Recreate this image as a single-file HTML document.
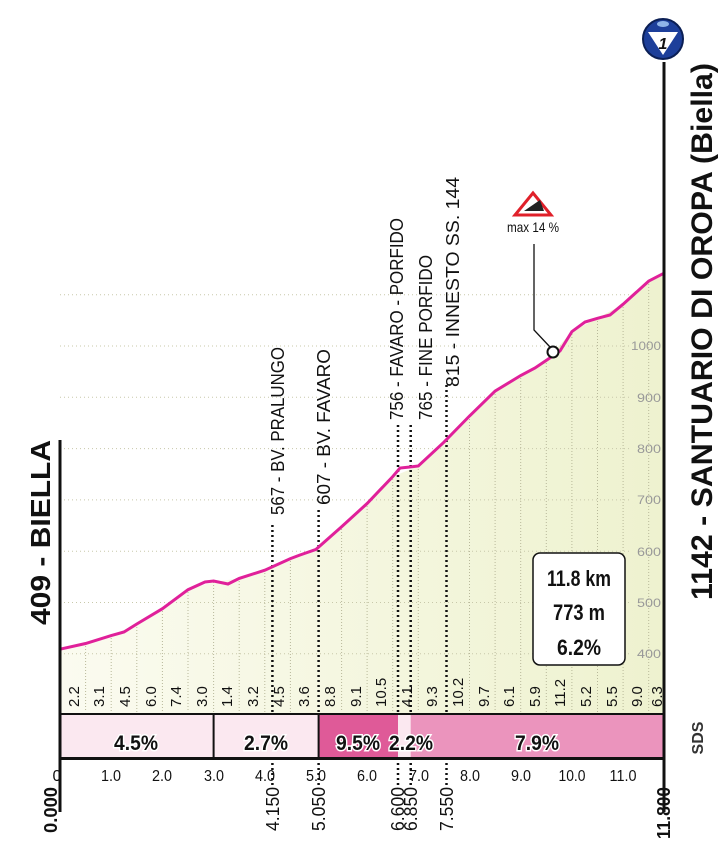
<!DOCTYPE html>
<html><head><meta charset="utf-8"><style>
body{margin:0;background:#fff;}
svg{display:block;font-family:"Liberation Sans",sans-serif;}
</style></head><body>
<svg width="728" height="857" viewBox="0 0 728 857" xmlns="http://www.w3.org/2000/svg">
<defs>
<linearGradient id="fg" x1="0" y1="0" x2="1" y2="0">
<stop offset="0" stop-color="#fbfbf0"/><stop offset="1" stop-color="#eef2cf"/>
</linearGradient>
</defs>
<path d="M60,649.2 L85.6,643.5 111.2,635.6 136.8,624 162.4,608.7 188,589.7 213.6,582 239.2,578.4 264.8,570.2 290.4,558.6 316,549.4 341.6,526.8 367.1,503.5 392.7,476.6 418.3,466 443.9,442.2 469.5,416 495.1,391.1 520.7,375.5 546.3,360.4 571.9,331.6 597.5,318.3 623.1,304.2 648.7,281.1 664,273.2 L664,713 L60,713 Z" fill="url(#fg)"/>
<g stroke="#b8b89a" stroke-width="1" stroke-dasharray="1,2">
<line x1="85.6" y1="643" x2="85.6" y2="712"/><line x1="111.2" y1="635" x2="111.2" y2="712"/><line x1="136.8" y1="624" x2="136.8" y2="712"/><line x1="162.4" y1="608" x2="162.4" y2="712"/><line x1="188" y1="589" x2="188" y2="712"/><line x1="213.6" y1="582" x2="213.6" y2="712"/><line x1="239.2" y1="578" x2="239.2" y2="712"/><line x1="264.8" y1="570" x2="264.8" y2="712"/><line x1="290.4" y1="558" x2="290.4" y2="712"/><line x1="341.6" y1="526" x2="341.6" y2="712"/><line x1="367.1" y1="503" x2="367.1" y2="712"/><line x1="392.7" y1="476" x2="392.7" y2="712"/><line x1="418.3" y1="466" x2="418.3" y2="712"/><line x1="469.5" y1="416" x2="469.5" y2="712"/><line x1="495.1" y1="391" x2="495.1" y2="712"/><line x1="520.7" y1="375" x2="520.7" y2="712"/><line x1="546.3" y1="360" x2="546.3" y2="712"/><line x1="571.9" y1="331" x2="571.9" y2="712"/><line x1="597.5" y1="318" x2="597.5" y2="712"/><line x1="623.1" y1="304" x2="623.1" y2="712"/><line x1="648.7" y1="281" x2="648.7" y2="712"/>
</g>
<g stroke="#c8c8aa" stroke-width="1" stroke-dasharray="1,3">
<line x1="60" y1="653.8" x2="630" y2="653.8"/><line x1="60" y1="602.5" x2="630" y2="602.5"/><line x1="60" y1="551.2" x2="630" y2="551.2"/><line x1="60" y1="499.9" x2="630" y2="499.9"/><line x1="60" y1="448.6" x2="630" y2="448.6"/><line x1="60" y1="397.3" x2="630" y2="397.3"/><line x1="60" y1="346" x2="630" y2="346"/><line x1="60" y1="294.7" x2="630" y2="294.7"/>
</g>
<g fill="#999" font-size="12" text-anchor="end">
<text x="661" y="658" textLength="24" lengthAdjust="spacingAndGlyphs">400</text><text x="661" y="607" textLength="24" lengthAdjust="spacingAndGlyphs">500</text><text x="661" y="556" textLength="24" lengthAdjust="spacingAndGlyphs">600</text><text x="661" y="504" textLength="24" lengthAdjust="spacingAndGlyphs">700</text><text x="661" y="453" textLength="24" lengthAdjust="spacingAndGlyphs">800</text><text x="661" y="402" textLength="24" lengthAdjust="spacingAndGlyphs">900</text><text x="661" y="350" textLength="30" lengthAdjust="spacingAndGlyphs">1000</text>
</g>
<g stroke="#111" stroke-width="2.5" stroke-dasharray="2,3">
<line x1="272.4" y1="525" x2="272.4" y2="712"/><line x1="318.6" y1="510" x2="318.6" y2="712"/><line x1="398" y1="425" x2="398" y2="712"/><line x1="410.7" y1="425" x2="410.7" y2="712"/><line x1="446.5" y1="385" x2="446.5" y2="712"/>
<line x1="272.4" y1="763" x2="272.4" y2="788"/><line x1="318.6" y1="763" x2="318.6" y2="788"/><line x1="398" y1="763" x2="398" y2="788"/><line x1="410.7" y1="763" x2="410.7" y2="788"/><line x1="446.5" y1="763" x2="446.5" y2="788"/>
</g>
<polyline points="60,649.2 85.6,643.5 111.2,635.6 124,632 136.8,624 162.4,608.7 188,589.7 205,582 213.6,581 228,584 239.2,578.4 264.8,570.2 290.4,558.6 300,555 316,549.4 341.6,526.8 367.1,503.5 392.7,476.6 400,468 410,467 418.3,466 443.9,442.2 469.5,416 495.1,391.1 520.7,375.5 535,368 546.3,360.4 560,351 571.9,331.6 585,322 597.5,318.3 610,315 623.1,304.2 648.7,281.1 664,273.2" fill="none" stroke="#e0209a" stroke-width="3"/>
<g font-size="18" fill="#111">
<text transform="translate(284,515) rotate(-90)" textLength="168" lengthAdjust="spacingAndGlyphs">567 - BV. PRALUNGO</text>
<text transform="translate(330,505) rotate(-90)" textLength="156" lengthAdjust="spacingAndGlyphs">607 - BV. FAVARO</text>
<text transform="translate(403,420) rotate(-90)" textLength="202" lengthAdjust="spacingAndGlyphs">756 - FAVARO - PORFIDO</text>
<text transform="translate(432,420) rotate(-90)" textLength="165" lengthAdjust="spacingAndGlyphs">765 - FINE PORFIDO</text>
<text transform="translate(459,387) rotate(-90)" textLength="210" lengthAdjust="spacingAndGlyphs">815 - INNESTO SS. 144</text>
</g>
<polygon points="533,193 515,215 551,215" fill="#fff" stroke="#e0202a" stroke-width="3"/>
<polygon points="524,211 540,200 544,211" fill="#222"/>
<text x="533" y="232" font-size="14" text-anchor="middle" fill="#111" textLength="52" lengthAdjust="spacingAndGlyphs">max 14 %</text>
<polyline points="534,244 534,330 550,347" fill="none" stroke="#111" stroke-width="1.3"/>
<circle cx="553" cy="352" r="5.5" fill="#fff" stroke="#111" stroke-width="2"/>
<rect x="533" y="553" width="92" height="112" rx="7" fill="#fff" stroke="#111" stroke-width="1.5"/>
<g font-size="22" font-weight="bold" text-anchor="middle" fill="#111">
<text x="579" y="586" textLength="64" lengthAdjust="spacingAndGlyphs">11.8 km</text>
<text x="579" y="620" textLength="52" lengthAdjust="spacingAndGlyphs">773 m</text>
<text x="579" y="655" textLength="44" lengthAdjust="spacingAndGlyphs">6.2%</text>
</g>
<g font-size="15" fill="#111">
<text transform="translate(79,707) rotate(-90)">2.2</text><text transform="translate(104,707) rotate(-90)">3.1</text><text transform="translate(130,707) rotate(-90)">4.5</text><text transform="translate(156,707) rotate(-90)">6.0</text><text transform="translate(181,707) rotate(-90)">7.4</text><text transform="translate(207,707) rotate(-90)">3.0</text><text transform="translate(232,707) rotate(-90)">1.4</text><text transform="translate(258,707) rotate(-90)">3.2</text><text transform="translate(284,707) rotate(-90)">4.5</text><text transform="translate(309,707) rotate(-90)">3.6</text><text transform="translate(335,707) rotate(-90)">8.8</text><text transform="translate(361,707) rotate(-90)">9.1</text><text transform="translate(386,707) rotate(-90)">10.5</text><text transform="translate(412,707) rotate(-90)">4.1</text><text transform="translate(437,707) rotate(-90)">9.3</text><text transform="translate(463,707) rotate(-90)">10.2</text><text transform="translate(489,707) rotate(-90)">9.7</text><text transform="translate(514,707) rotate(-90)">6.1</text><text transform="translate(540,707) rotate(-90)">5.9</text><text transform="translate(565,707) rotate(-90)">11.2</text><text transform="translate(591,707) rotate(-90)">5.2</text><text transform="translate(617,707) rotate(-90)">5.5</text><text transform="translate(642,707) rotate(-90)">9.0</text><text transform="translate(662,707) rotate(-90)">6.3</text>
</g>
<rect x="60" y="714" width="604" height="44" fill="#fbe8f0"/>
<rect x="318.6" y="714" width="79.4" height="44" fill="#df5a98"/>
<rect x="410.7" y="714" width="253.3" height="44" fill="#eb94bd"/>
<g stroke="#111" stroke-width="2">
<line x1="60" y1="714" x2="664" y2="714"/><line x1="60" y1="758.5" x2="664" y2="758.5" stroke-width="3"/>
<line x1="213.6" y1="714" x2="213.6" y2="758"/><line x1="318.6" y1="714" x2="318.6" y2="758"/>
</g>
<g font-size="21" font-weight="bold" text-anchor="middle" fill="#111" stroke="#fff" stroke-width="3" paint-order="stroke">
<text x="136" y="750" textLength="44" lengthAdjust="spacingAndGlyphs">4.5%</text>
<text x="266" y="750" textLength="44" lengthAdjust="spacingAndGlyphs">2.7%</text>
<text x="358" y="750" textLength="44" lengthAdjust="spacingAndGlyphs">9.5%</text>
<text x="411" y="750" textLength="44" lengthAdjust="spacingAndGlyphs">2.2%</text>
<text x="537" y="750" textLength="44" lengthAdjust="spacingAndGlyphs">7.9%</text>
</g>
<g font-size="16" text-anchor="middle" fill="#111">
<text x="57" y="781">0</text><text x="111" y="781" textLength="20" lengthAdjust="spacingAndGlyphs">1.0</text><text x="162" y="781" textLength="20" lengthAdjust="spacingAndGlyphs">2.0</text><text x="214" y="781" textLength="20" lengthAdjust="spacingAndGlyphs">3.0</text><text x="265" y="781" textLength="20" lengthAdjust="spacingAndGlyphs">4.0</text><text x="316" y="781" textLength="20" lengthAdjust="spacingAndGlyphs">5.0</text><text x="367" y="781" textLength="20" lengthAdjust="spacingAndGlyphs">6.0</text><text x="419" y="781" textLength="20" lengthAdjust="spacingAndGlyphs">7.0</text><text x="470" y="781" textLength="20" lengthAdjust="spacingAndGlyphs">8.0</text><text x="521" y="781" textLength="20" lengthAdjust="spacingAndGlyphs">9.0</text><text x="572" y="781" textLength="27" lengthAdjust="spacingAndGlyphs">10.0</text><text x="623" y="781" textLength="27" lengthAdjust="spacingAndGlyphs">11.0</text>
</g>
<g font-size="18" fill="#111" text-anchor="end">
<text transform="translate(279,787) rotate(-90)" textLength="44" lengthAdjust="spacingAndGlyphs">4.150</text>
<text transform="translate(325,787) rotate(-90)" textLength="44" lengthAdjust="spacingAndGlyphs">5.050</text>
<text transform="translate(404,787) rotate(-90)" textLength="44" lengthAdjust="spacingAndGlyphs">6.600</text>
<text transform="translate(417,787) rotate(-90)" textLength="44" lengthAdjust="spacingAndGlyphs">6.850</text>
<text transform="translate(453,787) rotate(-90)" textLength="44" lengthAdjust="spacingAndGlyphs">7.550</text>
<text transform="translate(57,787) rotate(-90)" font-weight="bold" textLength="46" lengthAdjust="spacingAndGlyphs">0.000</text>
<text transform="translate(670,787) rotate(-90)" font-weight="bold" textLength="52" lengthAdjust="spacingAndGlyphs">11.800</text>
</g>
<line x1="60" y1="440" x2="60" y2="812" stroke="#111" stroke-width="3"/>
<line x1="664" y1="62" x2="664" y2="812" stroke="#111" stroke-width="3"/>
<text transform="translate(50,625) rotate(-90)" font-size="28" font-weight="bold" fill="#111" textLength="185" lengthAdjust="spacingAndGlyphs">409 - BIELLA</text>
<text transform="translate(712,600) rotate(-90)" font-size="30" font-weight="bold" fill="#111" textLength="537" lengthAdjust="spacingAndGlyphs">1142 - SANTUARIO DI OROPA (Biella)</text>
<text transform="translate(703,738) rotate(-90)" font-size="16" font-weight="bold" fill="#333" text-anchor="middle">SDS</text>
<circle cx="663" cy="39" r="20" fill="#1d3f9a" stroke="#0b1f55" stroke-width="2"/>
<polygon points="648,32 678,32 663,55" fill="#fff"/>
<ellipse cx="663" cy="24" rx="6" ry="3" fill="#8fb4e8"/>
<text x="663" y="49" font-size="16" font-weight="bold" font-style="italic" text-anchor="middle" fill="#111">1</text>
</svg>
</body></html>
